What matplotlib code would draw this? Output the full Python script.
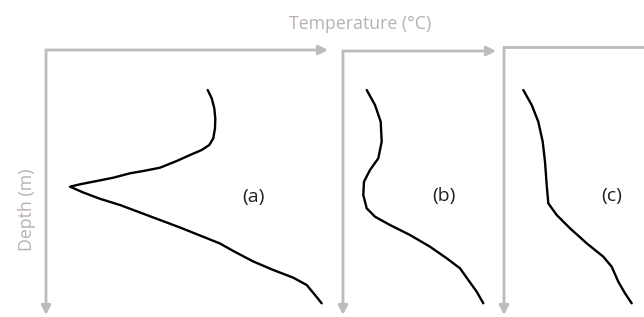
import matplotlib
matplotlib.use("Agg")
import matplotlib.pyplot as plt

# Profiles: temperature (arbitrary units, rightwards) vs depth (arbitrary units, downwards)
temp_a = [161.7, 165.7, 168.3, 169.3, 169, 167.3, 163.3, 155.7, 144, 130.7, 114, 97.3, 84,
          67.3, 47.3, 34, 24, 37.3, 54, 74, 94, 114, 134, 154, 174, 187.3, 207.3, 227.3,
          247.3, 260.7, 269, 275.7]
depth_a = [40, 48.3, 58.3, 68.3, 78.3, 88.3, 95, 100, 105, 111, 117.7, 121, 123.3, 127.7,
           131.7, 134.3, 136.7, 142.5, 148.8, 155, 162.5, 170, 177.5, 185.5, 193.5, 201,
           211.5, 220, 227.7, 235, 245, 253.3]

temp_b = [23.7, 32, 37.7, 38.7, 35.3, 27, 21, 20.3, 23.7, 32, 47, 67, 87, 103.7, 117,
          125.3, 133.7, 140.3]
depth_b = [39, 54, 70.7, 90.7, 107.3, 119, 130.7, 144, 157.3, 165.7, 174, 184, 195.7,
           207.3, 217.3, 229, 240.7, 252.3]

temp_c = [19.3, 27.7, 34.3, 38.7, 41, 42.7, 44.3, 52.7, 66, 82.7, 99.3, 107.7, 114.3,
          121, 127.7]
depth_c = [43, 58, 74.7, 94.7, 114.7, 138, 156.3, 168, 181.3, 196.3, 209.7, 219.7,
           234.7, 246.3, 256.3]

labels = ["(a)", "(b)", "(c)"]
x_title = "Temperature (\u00b0C)"
y_title = "Depth (m)"

W, H = 644, 317
fig = plt.figure(figsize=(W / 100, H / 100), dpi=100)
fig.patch.set_facecolor("white")

grey = "#bcbcbc"
text_grey = "#b9b0b0"

# panel extents in pixels: left, top, right, bottom
panels = [(46, 50, 328, 315, True), (343, 51, 496, 315, True), (504, 47, 660, 315, False)]
data = [(temp_a, depth_a), (temp_b, depth_b), (temp_c, depth_c)]
label_pos = [(207, 147), (101, 145), (108, 149)]

for (l, t, r, b, harrow), (tx, dy), lab, lp in zip(panels, data, labels, label_pos):
    ax = fig.add_axes([l / W, 1 - b / H, (r - l) / W, (b - t) / H])
    ax.set_xlim(0, r - l)
    ax.set_ylim(b - t, 0)
    ax.axis("off")
    ax.plot(tx, dy, color="black", lw=1.7, solid_capstyle="round", solid_joinstyle="round")
    # axes arrows
    ax.annotate("", xy=(0, 0), xytext=(0, 1), xycoords="axes fraction",
                arrowprops=dict(arrowstyle="-|>,head_length=0.55,head_width=0.28",
                                color=grey, lw=2.0, shrinkA=0, shrinkB=0))
    if harrow:
        ax.annotate("", xy=(1, 1), xytext=(0, 1), xycoords="axes fraction",
                    arrowprops=dict(arrowstyle="-|>,head_length=0.55,head_width=0.28",
                                    color=grey, lw=2.0, shrinkA=0, shrinkB=0))
    else:
        ax.plot([0, 1], [1, 1], transform=ax.transAxes, color=grey, lw=2.0, clip_on=False)
    ax.text(lp[0], lp[1], lab, ha="center", va="center", fontsize=14,
            family="Open Sans", color="#222222")

fig.text(360 / W, 1 - 24 / H, x_title, ha="center", va="center", fontsize=12.8,
         family="Open Sans", color=text_grey)
fig.text(27 / W, 1 - 210 / H, y_title, ha="center", va="center", fontsize=12.8,
         family="Open Sans", color=text_grey, rotation=90)

fig.savefig("out.png", dpi=100, facecolor="white")
